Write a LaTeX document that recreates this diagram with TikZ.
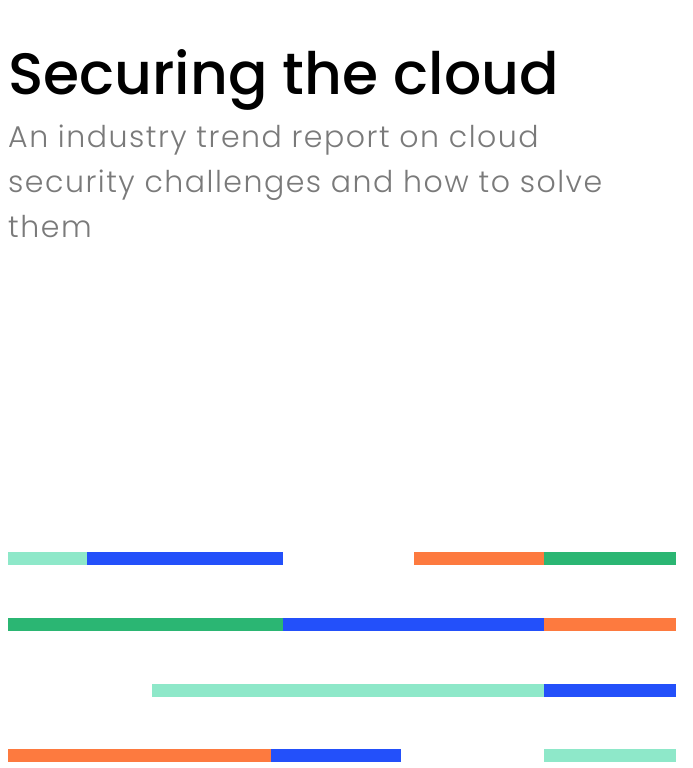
\documentclass[tikz,border=0pt]{standalone}
\usepackage{fontspec}
\setmainfont{Poppins}
\newfontfamily\titlefont{Poppins Medium}
\newfontfamily\subfont{Poppins Light}[LetterSpace=5]
\definecolor{mint}{HTML}{8EE8C9}
\definecolor{cblue}{HTML}{2350FA}
\definecolor{corange}{HTML}{FD7A3F}
\definecolor{cgreen}{HTML}{2BB673}
\definecolor{sub}{HTML}{7A7A7A}
\begin{document}
\begin{tikzpicture}[x=1pt,y=-1pt]
\tikzset{bar/.style={fill=#1,draw=none},subtxt/.style={anchor=base west,inner sep=0pt,text=sub,font=\subfont\fontsize{30}{45}\selectfont}}
\useasboundingbox (0,0) rectangle (693,768);
\node[anchor=base west,inner sep=0pt,font=\titlefont\fontsize{58.4}{58}\selectfont] (title) at (8,94) {Securing the cloud};
\node[subtxt] (s1) at (8,147) {An industry trend report on cloud};
\node[subtxt] (s2) at (8,192) {security challenges and how to solve};
\node[subtxt] (s3) at (8,237) {them};
\fill[bar=mint] (8,552) rectangle (87,565);
\fill[bar=cblue] (87,552) rectangle (283,565);
\fill[bar=corange] (414,552) rectangle (544,565);
\fill[bar=cgreen] (544,552) rectangle (676,565);
\fill[bar=cgreen] (8,618) rectangle (283,631);
\fill[bar=cblue] (283,618) rectangle (544,631);
\fill[bar=corange] (544,618) rectangle (676,631);
\fill[bar=mint] (152,684) rectangle (544,697);
\fill[bar=cblue] (544,684) rectangle (676,697);
\fill[bar=corange] (8,749) rectangle (271,762);
\fill[bar=cblue] (271,749) rectangle (401,762);
\fill[bar=mint] (544,749) rectangle (676,762);
\end{tikzpicture}
\end{document}
